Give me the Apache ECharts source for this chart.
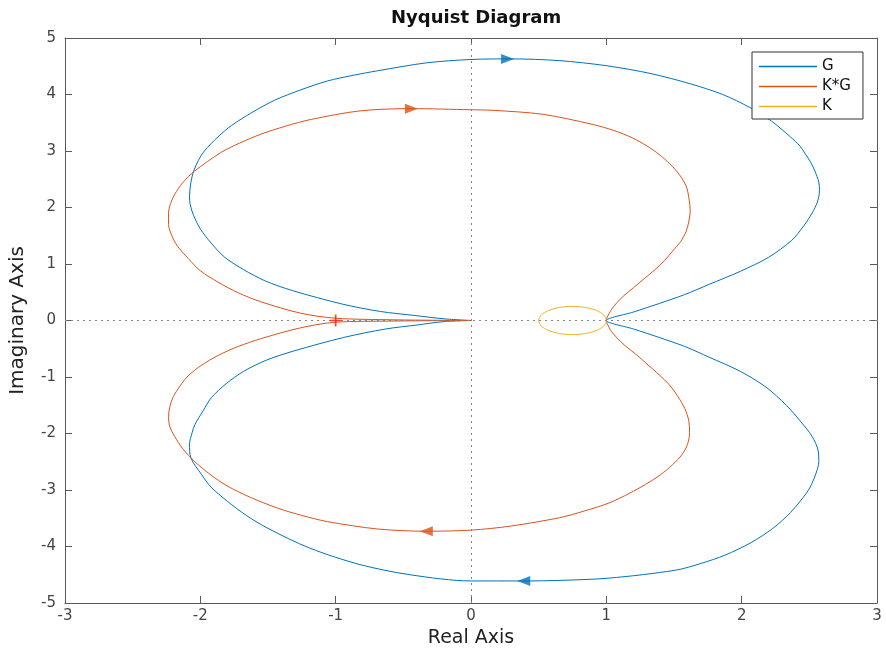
<!DOCTYPE html>
<html>
<head>
<meta charset="utf-8">
<script src="https://cdn.jsdelivr.net/npm/echarts@6/dist/echarts.min.js"></script>
<style>
  html, body { margin: 0; padding: 0; background: #fff; }
  #nyquist { width: 886px; height: 657px; }
</style>
</head>
<body>
<div id="nyquist"></div>
<script>
// G, upper branch: origin -> left loop -> top -> (1,0)
var gUpper = [[0,0],[-0.2,0.03],[-0.42,0.09],[-0.67,0.16],[-0.95,0.29],[-1.32,0.53],[-1.52,0.7],[-1.68,0.9],
  [-1.82,1.12],[-1.92,1.37],[-2.0,1.62],[-2.05,1.86],[-2.075,2.05],[-2.08,2.2],[-2.07,2.44],[-2.05,2.64],
  [-2.015,2.83],[-1.97,3.0],[-1.87,3.25],[-1.77,3.45],[-1.62,3.68],[-1.45,3.9],[-1.26,4.08],[-1.06,4.24],
  [-0.87,4.34],[-0.69,4.42],[-0.33,4.56],[0,4.62],[0.3,4.63],[0.65,4.6],[1.0,4.51],[1.33,4.37],[1.62,4.19],
  [1.86,4.0],[2.06,3.77],[2.22,3.53],[2.36,3.25],[2.43,3.09],[2.47,2.95],[2.51,2.8],[2.54,2.65],
  [2.57,2.45],[2.575,2.3],[2.56,2.1],[2.52,1.9],[2.46,1.68],[2.37,1.42],[2.2,1.12],[1.99,0.87],
  [1.76,0.64],[1.58,0.46],[1.39,0.3],[1.2,0.15],[1,0]];
// G, lower branch: (1,0) -> bottom -> left loop -> origin
var gLower = [[1,0],[1.2,-0.15],[1.39,-0.3],[1.58,-0.46],[1.76,-0.65],[1.99,-0.9],[2.18,-1.18],[2.33,-1.5],
  [2.44,-1.8],[2.52,-2.05],[2.565,-2.3],[2.57,-2.5],[2.55,-2.7],[2.52,-2.88],[2.48,-3.05],[2.36,-3.4],
  [2.23,-3.68],[2.07,-3.93],[1.88,-4.15],[1.7,-4.3],[1.51,-4.42],[1.02,-4.56],[0.65,-4.6],[0.38,-4.61],
  [0,-4.61],[-0.45,-4.5],[-0.82,-4.32],[-1.19,-4.03],[-1.5,-3.68],[-1.66,-3.45],[-1.8,-3.2],[-1.92,-2.95],
  [-1.99,-2.73],[-2.07,-2.43],[-2.08,-2.19],[-2.06,-1.98],[-2.04,-1.84],[-1.98,-1.6],[-1.92,-1.37],
  [-1.81,-1.12],[-1.68,-0.9],[-1.51,-0.7],[-1.31,-0.54],[-0.94,-0.3],[-0.63,-0.15],[-0.4,-0.08],
  [-0.2,-0.02],[0,0]];

// K*G, upper branch
var kgUpper = [[0,0],[-0.25,0.004],[-0.57,0.012],[-1.0,0.04],[-1.26,0.13],[-1.55,0.33],[-1.72,0.49],
  [-1.87,0.68],[-2.0,0.88],[-2.09,1.1],[-2.17,1.32],[-2.21,1.5],[-2.235,1.7],[-2.235,1.9],[-2.22,2.07],
  [-2.19,2.23],[-2.13,2.44],[-2.045,2.64],[-1.85,2.97],[-1.71,3.14],[-1.55,3.3],[-1.37,3.44],[-1.18,3.56],
  [-0.82,3.71],[-0.45,3.75],[0,3.73],[0.16,3.72],[0.53,3.65],[0.9,3.47],[1.06,3.36],[1.195,3.23],
  [1.3,3.09],[1.39,2.94],[1.47,2.77],[1.54,2.58],[1.59,2.38],[1.61,2.17],[1.62,1.94],[1.61,1.76],
  [1.59,1.58],[1.55,1.4],[1.49,1.23],[1.43,1.06],[1.36,0.9],[1.28,0.74],[1.2,0.58],[1.13,0.44],
  [1.08,0.32],[1.04,0.2],[1.02,0.12],[1,0]];
// K*G, lower branch
var kgLower = [[1,0],[1.02,-0.12],[1.04,-0.2],[1.08,-0.31],[1.14,-0.45],[1.22,-0.6],[1.3,-0.77],
  [1.39,-0.96],[1.47,-1.15],[1.53,-1.35],[1.58,-1.56],[1.61,-1.78],[1.615,-1.98],[1.6,-2.19],[1.56,-2.37],
  [1.49,-2.55],[1.4,-2.73],[1.29,-2.9],[1.17,-3.06],[1.02,-3.23],[0.84,-3.37],[0.655,-3.49],[0.29,-3.64],
  [0,-3.71],[-0.33,-3.73],[-0.69,-3.69],[-1.06,-3.56],[-1.25,-3.45],[-1.43,-3.32],[-1.63,-3.13],
  [-1.8,-2.93],[-1.93,-2.72],[-2.04,-2.5],[-2.13,-2.27],[-2.19,-2.05],[-2.225,-1.88],[-2.235,-1.72],
  [-2.225,-1.52],[-2.2,-1.35],[-2.15,-1.16],[-2.09,-0.98],[-1.99,-0.79],[-1.87,-0.62],[-1.72,-0.46],
  [-1.55,-0.32],[-1.26,-0.13],[-1.0,-0.03],[-0.57,-0.01],[-0.25,-0.003],[0,0]];

// K: small closed loop between 0.5 and 1
var kLoop = [[1,0],[0.995,0.048],[0.981,0.096],[0.958,0.139],[0.927,0.177],[0.889,0.208],[0.846,0.231],
  [0.799,0.245],[0.75,0.25],[0.701,0.245],[0.654,0.231],[0.611,0.208],[0.573,0.177],[0.542,0.139],
  [0.519,0.096],[0.505,0.048],[0.5,0],[0.505,-0.048],[0.519,-0.096],[0.542,-0.139],[0.573,-0.177],
  [0.611,-0.208],[0.654,-0.231],[0.701,-0.245],[0.75,-0.25],[0.799,-0.245],[0.846,-0.231],
  [0.889,-0.208],[0.927,-0.177],[0.958,-0.139],[0.981,-0.096],[0.995,-0.048],[1,0]];

// direction arrows [x, y, rotation]
var gArrows = [[0.27,4.63,-90],[0.39,-4.61,90]];
var kgArrows = [[-0.44,3.75,-90],[-0.33,-3.73,90]];
var critical = [[-1,0]];

var xTicks = {min: -3, max: 3, step: 1};
var yTicks = {min: -5, max: 5, step: 1};

var blue = '#0072BD', orange = '#D95319', yellow = '#EDB120';
var font = 'DejaVu Sans, Verdana, sans-serif';

var chart = echarts.init(document.getElementById('nyquist'));

function arrowData(list) {
    return list.map(function (a) {
        return {value: [a[0], a[1]], symbolRotate: a[2]};
    });
}

var axisCommon = {
    type: 'value',
    axisLine: {show: true, onZero: false, lineStyle: {color: '#5a5a5a', width: 1}},
    axisTick: {show: true, inside: true, length: 7, lineStyle: {color: '#5a5a5a'}},
    splitLine: {show: false}
};

var option = {
    backgroundColor: '#fff',
    animation: false,
    title: {
        text: 'Nyquist Diagram',
        left: 386,
        top: 4,
        textStyle: {fontFamily: font, fontSize: 18, fontWeight: 'bold', color: '#111'}
    },
    legend: {
        data: ['G', 'K*G', 'K'],
        orient: 'vertical',
        left: 752,
        top: 52,
        padding: [7, 12, 5, 7],
        itemGap: 5,
        itemWidth: 58,
        itemHeight: 1.5,
        icon: 'rect',
        backgroundColor: '#fff',
        borderColor: '#333',
        borderWidth: 1,
        borderRadius: 0,
        textStyle: {fontFamily: font, fontSize: 15, lineHeight: 15, color: '#111'}
    },
    grid: {left: 64, right: 9, top: 38, bottom: 54},
    xAxis: [
        Object.assign({}, axisCommon, {
            min: xTicks.min, max: xTicks.max, interval: xTicks.step,
            position: 'bottom',
            name: 'Real Axis',
            nameLocation: 'middle',
            nameGap: 20,
            nameTextStyle: {fontFamily: font, fontSize: 19, color: '#222'},
            axisLabel: {margin: 6, fontFamily: font, fontSize: 15, color: '#444'}
        }),
        Object.assign({}, axisCommon, {
            min: xTicks.min, max: xTicks.max, interval: xTicks.step,
            position: 'top',
            axisLabel: {show: false}
        })
    ],
    yAxis: [
        Object.assign({}, axisCommon, {
            min: yTicks.min, max: yTicks.max, interval: yTicks.step,
            position: 'left',
            name: 'Imaginary Axis',
            nameLocation: 'middle',
            nameGap: 37,
            nameTextStyle: {fontFamily: font, fontSize: 20, color: '#222'},
            axisLabel: {margin: 9, fontFamily: font, fontSize: 15, color: '#444'}
        }),
        Object.assign({}, axisCommon, {
            min: yTicks.min, max: yTicks.max, interval: yTicks.step,
            position: 'right',
            axisLabel: {show: false}
        })
    ],
    series: [
        {
            name: 'G', type: 'line', data: gUpper.concat(gLower.slice(1)),
            showSymbol: false, smooth: 0.3, color: blue,
            lineStyle: {width: 1, color: blue},
            markLine: {
                silent: true, symbol: 'none', label: {show: false},
                lineStyle: {type: [2, 4], color: '#858585', width: 1},
                data: [{xAxis: 0}, {yAxis: 0}]
            },
            z: 3
        },
        {
            name: 'K*G', type: 'line', data: kgUpper.concat(kgLower.slice(1)),
            showSymbol: false, smooth: 0.3, color: orange,
            lineStyle: {width: 1, color: orange}, z: 3
        },
        {
            name: 'K', type: 'line', data: kLoop,
            showSymbol: false, smooth: 0.3, color: yellow,
            lineStyle: {width: 1, color: yellow}, z: 3
        },
        {
            type: 'scatter', data: arrowData(gArrows), symbol: 'triangle',
            symbolSize: [10, 13], itemStyle: {color: blue}, z: 5, silent: true
        },
        {
            type: 'scatter', data: arrowData(kgArrows), symbol: 'triangle',
            symbolSize: [10, 13], itemStyle: {color: orange}, z: 5, silent: true
        },
        {
            type: 'scatter', data: critical,
            symbol: 'path://M4.3,0H5.7V4.3H10V5.7H5.7V10H4.3V5.7H0V4.3H4.3Z',
            symbolSize: 12, itemStyle: {color: '#ff1010'}, z: 6, silent: true
        }
    ]
};

chart.setOption(option);
</script>
</body>
</html>
